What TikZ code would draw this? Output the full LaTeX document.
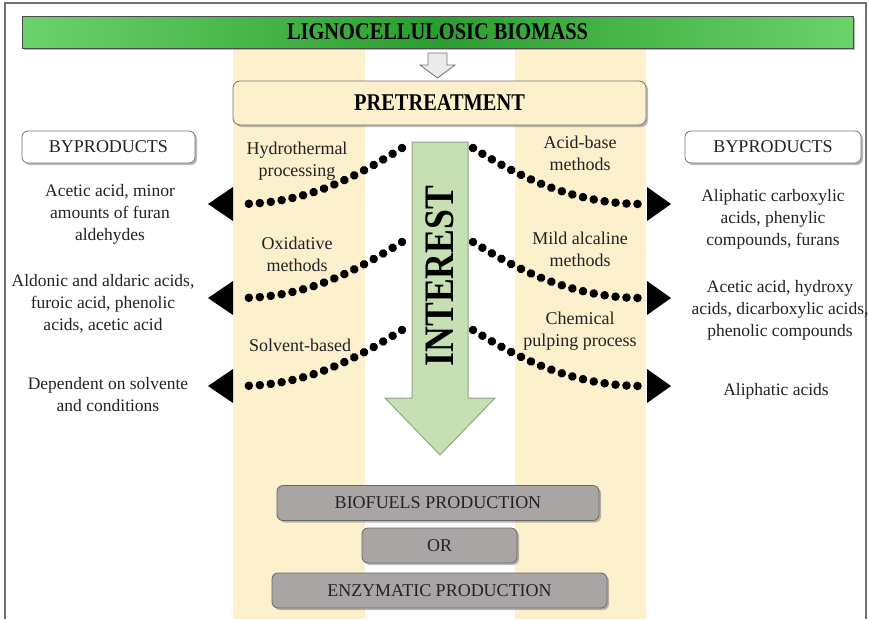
\documentclass[tikz,border=0pt]{standalone}
\usepackage{fontspec}
\setmainfont{Liberation Serif}
\usetikzlibrary{shadows,decorations.markings}
\definecolor{beige}{HTML}{FDF0CC}
\definecolor{framec}{HTML}{707070}
\definecolor{gedge}{HTML}{6CD26C}
\definecolor{gmid}{HTML}{2A9E2E}
\definecolor{arrowgreen}{HTML}{C6E0B4}
\definecolor{arrowedge}{HTML}{8FA783}
\definecolor{boxgray}{HTML}{A9A5A5}
\definecolor{txt}{HTML}{222222}
\newcommand{\bptext}{\fontsize{17.5}{22}\selectfont}
\newcommand{\mtext}{\fontsize{18}{22}\selectfont}
\newcommand{\headtext}{\fontsize{24}{28}\selectfont\bfseries}
\tikzset{
  shadowed/.style={drop shadow={shadow xshift=2pt,shadow yshift=-2pt,opacity=0.45,fill=black!60}},
  greenbar/.style={draw=black!70,line width=0.8pt,left color=gedge,right color=gedge,middle color=gmid,
     minimum width=831,minimum height=32,inner sep=0pt,shadowed},
  pretbox/.style={draw=black!55,line width=0.8pt,fill=beige,rounded corners=7pt,minimum width=413,
     minimum height=44,inner sep=0pt,shadowed},
  bybox/.style={draw=black!55,line width=0.8pt,fill=white,rounded corners=6pt,minimum height=32,
     inner sep=0pt,shadowed,font=\mtext,text=txt},
  prodbox/.style={draw=black!60,line width=0.8pt,fill=boxgray,rounded corners=6pt,minimum height=35,
     inner sep=0pt,shadowed,font=\mtext,text=txt},
  bylabel/.style={align=center,font=\bptext,text=txt,inner sep=0pt},
  mlabel/.style={align=center,font=\mtext,text=txt,inner sep=0pt},
  dotline/.style={decoration={markings,
      mark=between positions 0 and 0.999 step 11pt with {\fill[black] (0,0) circle (4.3pt);}},
      postaction={decorate}},
  tipfill/.style={fill=black}
}
\begin{document}
\begin{tikzpicture}[x=1pt,y=-1pt]
\useasboundingbox (0,0) rectangle (869,619);
% background columns
\fill[beige] (233,48) rectangle (365,619);
\fill[beige] (515,48) rectangle (646,619);
% frame
\draw[framec,line width=1.2pt] (5,619) -- (5,3) -- (866,3) -- (866,619);

% top bar
\node[greenbar] (bio) at (437.5,32) {\headtext\scalebox{0.85}[1]{LIGNOCELLULOSIC BIOMASS}};
% small arrow
\draw[black!55,fill=black!8,line width=0.8pt,line join=miter]
  (428,53) -- (447,53) -- (447,65) -- (455,65) -- (437.5,78) -- (420,65) -- (428,65) -- cycle;
% pretreatment
\node[pretbox] (pre) at (439.5,103) {\headtext\scalebox{0.85}[1]{PRETREATMENT}};

% byproducts headers
\node[bybox,minimum width=173] (byl) at (108.5,147) {BYPRODUCTS};
\node[bybox,minimum width=176] (byr) at (773,147) {BYPRODUCTS};

% interest arrow
\draw[arrowedge,fill=arrowgreen,line width=1pt,line join=miter]
  (412,142) -- (468,142) -- (468,398) -- (495,398) -- (440,455) -- (385,398) -- (412,398) -- cycle;
\node[rotate=90,text=black,inner sep=0pt] (interest) at (440,276)
  {\fontsize{42}{46}\selectfont\bfseries\scalebox{0.85}[1]{INTEREST}};

% method labels
\node[mlabel] (m1) at (297,161) {Hydrothermal\\processing};
\node[mlabel] (m2) at (297,254) {Oxidative\\methods};
\node[mlabel] (m3) at (300,345) {Solvent-based};
\node[mlabel] (m4) at (580,153) {Acid-base\\methods};
\node[mlabel] (m5) at (580,249) {Mild alcaline\\methods};
\node[mlabel] (m6) at (580,331) {Chemical\\pulping process};

% dotted connectors
\coordinate (L1s) at (402,148); \coordinate (L1e) at (238,204);
\coordinate (L2s) at (402,242); \coordinate (L2e) at (238,298);
\coordinate (L3s) at (402,330); \coordinate (L3e) at (238,386);
\coordinate (R1s) at (473,148); \coordinate (R1e) at (642,204);
\coordinate (R2s) at (473,242); \coordinate (R2e) at (642,298);
\coordinate (R3s) at (473,330); \coordinate (R3e) at (642,386);
\foreach \n in {1,2,3}{
  \path[dotline] (L\n s) .. controls +(-45,28) and +(70,0) .. (L\n e);
  \path[dotline] (R\n s) .. controls +(45,28) and +(-70,0) .. (R\n e);
  \fill[tipfill] (L\n e) ++(-5,0) ++(-25,0) -- ++(25,-17) -- ++(0,34) -- cycle;
  \fill[tipfill] (R\n e) ++(5,0) ++(24,0) -- ++(-24,-17) -- ++(0,34) -- cycle;
}

% byproduct texts
\node[bylabel] (b1) at (110,214) {Acetic acid, minor\\amounts of furan\\aldehydes};
\node[bylabel] (b2) at (103,304) {Aldonic and aldaric acids,\\furoic acid, phenolic\\acids, acetic acid};
\node[bylabel] (b3) at (108,395) {Dependent on solvente\\and conditions};
\node[bylabel] (b4) at (773,219) {Aliphatic carboxylic\\acids, phenylic\\compounds, furans};
\node[bylabel] (b5) at (780,310) {Acetic acid, hydroxy\\acids, dicarboxylic acids,\\phenolic compounds};
\node[bylabel] (b6) at (776,391) {Aliphatic acids};

% production boxes
\node[prodbox,minimum width=322] (bf) at (438,503) {BIOFUELS PRODUCTION};
\node[prodbox,minimum width=155] (or) at (439.5,545.5) {OR};
\node[prodbox,minimum width=335] (ez) at (439.5,590.5) {ENZYMATIC PRODUCTION};
\end{tikzpicture}
\end{document}
